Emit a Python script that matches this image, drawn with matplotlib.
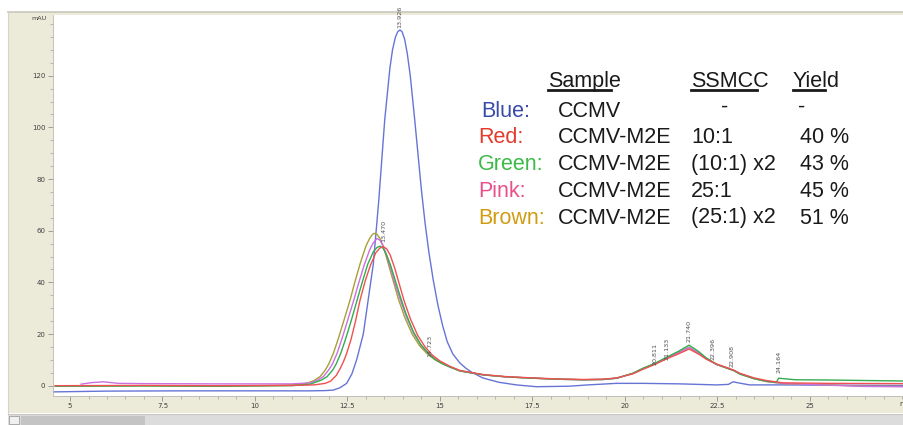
import matplotlib
matplotlib.use("Agg")
import matplotlib.pyplot as plt
from matplotlib.patches import Rectangle
from matplotlib.lines import Line2D
from matplotlib.ticker import MultipleLocator, FuncFormatter

# ---- chromatogram traces (time in min, absorbance in mAU) ----
blue_t = [4.55, 6.0, 8.0, 10.0, 11.5, 11.9, 12.12, 12.3, 12.48, 12.62, 12.75, 12.93,
          13.06, 13.2, 13.35, 13.51, 13.65, 13.72, 13.8, 13.86, 13.92, 13.98, 14.05,
          14.12, 14.2, 14.32, 14.42, 14.5, 14.6, 14.7, 14.82, 14.95, 15.08, 15.2,
          15.35, 15.54, 15.7, 15.85, 16.16, 16.6, 17.07, 17.61, 18.5, 19.0, 19.77,
          20.5, 21.5, 22.48, 22.8, 22.93, 23.1, 23.38, 24.27, 25.5, 27.6]
blue_y = [-2.4, -2.1, -2.0, -2.0, -2.0, -1.9, -1.7, -0.8, 0.9, 4.5, 10.0, 20.0,
          33.0, 47.0, 72.0, 103.0, 123.0, 130.0, 135.0, 137.0, 137.7, 137.0, 134.0,
          128.5, 120.0, 103.0, 88.0, 76.0, 63.0, 52.0, 41.0, 31.0, 23.0, 17.0,
          12.3, 8.8, 6.8, 5.3, 3.0, 1.3, 0.3, -0.4, -0.2, 0.3, 0.9,
          0.9, 0.7, 0.3, 0.5, 1.5, 1.0, 0.3, 0.3, 0.2, 0.1]

red_t = [4.6, 7.0, 9.0, 11.0, 11.6, 11.9, 12.05, 12.2, 12.3, 12.4, 12.48, 12.6,
         12.72, 12.84, 12.98, 13.12, 13.27, 13.38, 13.47, 13.56, 13.66, 13.78, 13.9,
         14.03, 14.2, 14.4, 14.6, 14.8, 15.0, 15.27, 15.54, 16.17, 16.8, 17.52,
         18.2, 18.87, 19.4, 19.78, 20.22, 20.5, 20.81, 21.13, 21.45, 21.74, 22.0,
         22.2, 22.48, 22.84, 22.95, 23.11, 23.5, 23.83, 24.28, 25.5, 27.6]
red_y = [0.0, 0.1, 0.0, 0.1, 0.3, 0.9, 1.8, 4.0, 6.5, 9.5, 12.5, 18.0,
         25.0, 33.0, 40.5, 46.5, 51.5, 53.3, 53.8, 53.0, 50.5, 45.5, 39.5,
         33.0, 26.0, 19.5, 15.0, 11.8, 9.6, 7.5, 5.9, 4.3, 3.5, 3.0,
         2.6, 2.4, 2.5, 3.0, 4.6, 6.4, 8.2, 10.4, 12.3, 14.2, 12.2,
         10.3, 8.4, 6.6, 6.0, 4.8, 3.0, 2.0, 1.1, 0.9, 0.8]

green_t = [4.6, 7.0, 9.0, 11.0, 11.5, 11.8, 11.95, 12.1, 12.2, 12.32, 12.45, 12.6,
           12.76, 12.9, 13.05, 13.2, 13.3, 13.38, 13.46, 13.55, 13.67, 13.8, 13.93,
           14.08, 14.28, 14.48, 14.7, 14.9, 15.1, 15.27, 15.54, 16.17, 16.8, 17.52,
           18.2, 18.87, 19.4, 19.78, 20.22, 20.5, 20.81, 21.13, 21.45, 21.74, 22.0,
           22.2, 22.48, 22.84, 22.95, 23.11, 23.5, 23.83, 24.1, 24.16, 24.6, 25.5,
           26.5, 27.6]
green_y = [-0.2, -0.1, -0.2, 0.0, 0.6, 2.2, 3.5, 6.0, 8.5, 12.5, 18.0, 25.0,
           33.0, 40.0, 47.0, 51.8, 53.5, 54.0, 53.3, 51.0, 46.5, 40.5, 34.5,
           28.0, 21.0, 16.0, 12.3, 9.9, 8.3, 7.2, 5.7, 4.2, 3.4, 2.9,
           2.5, 2.3, 2.4, 2.9, 4.8, 6.8, 8.6, 11.0, 13.3, 15.7, 13.2,
           10.8, 8.3, 6.4, 5.8, 4.5, 2.7, 1.7, 1.3, 2.9, 2.3, 2.2,
           2.0, 1.8]

pink_t = [5.3, 5.6, 5.9, 6.3, 7.0, 9.0, 11.0, 11.5, 11.7, 11.85, 12.0, 12.1,
          12.22, 12.35, 12.5, 12.67, 12.8, 12.95, 13.1, 13.2, 13.3, 13.38, 13.46,
          13.58, 13.7, 13.82, 13.95, 14.1, 14.3, 14.5, 14.7, 14.9, 15.1, 15.27,
          15.54, 16.17, 16.8, 17.52, 18.2, 18.87, 19.4, 19.78, 20.22, 20.5, 20.81,
          21.13, 21.45, 21.74, 22.0, 22.2, 22.48, 22.84, 22.95, 23.11, 23.5, 23.83,
          24.28, 25.5, 26.5, 27.6]
pink_y = [0.6, 1.2, 1.5, 0.9, 0.8, 0.7, 0.7, 1.1, 2.2, 3.5, 6.2, 8.5,
          12.5, 18.0, 25.0, 33.0, 39.5, 46.5, 52.5, 55.3, 57.0, 56.3, 54.5,
          49.5, 44.0, 38.0, 32.5, 26.5, 20.0, 15.5, 12.4, 10.0, 8.4, 7.3,
          5.7, 4.2, 3.4, 2.9, 2.5, 2.3, 2.4, 2.9, 4.7, 6.6, 8.4,
          10.6, 12.8, 14.8, 12.6, 10.5, 8.2, 6.4, 5.9, 4.6, 2.8, 1.7,
          0.9, 0.2, -0.3, -0.4]

brown_t = [4.6, 7.0, 9.0, 10.5, 11.0, 11.4, 11.6, 11.76, 11.9, 12.0, 12.12, 12.25,
           12.4, 12.57, 12.7, 12.85, 13.0, 13.1, 13.18, 13.24, 13.3, 13.38, 13.5,
           13.62, 13.75, 13.88, 14.05, 14.25, 14.45, 14.64, 14.85, 15.05, 15.27,
           15.54, 16.17, 16.8, 17.52, 18.2, 18.87, 19.4, 19.78, 20.22, 20.5, 20.81,
           21.13, 21.45, 21.74, 22.0, 22.2, 22.48, 22.84, 22.95, 23.11, 23.5, 23.83,
           24.28, 25.5, 26.5, 27.6]
brown_y = [-0.1, 0.0, -0.2, 0.1, 0.3, 0.9, 2.0, 3.5, 6.0, 8.5, 12.5, 18.0,
           25.0, 33.0, 40.0, 47.5, 54.0, 57.0, 58.6, 59.0, 58.6, 57.0, 52.5,
           46.5, 40.0, 33.5, 26.5, 20.0, 15.5, 12.6, 10.2, 8.6, 7.4,
           5.8, 4.2, 3.4, 2.9, 2.5, 2.3, 2.4, 2.9, 4.8, 6.7, 8.5,
           10.7, 12.9, 14.9, 12.6, 10.5, 8.2, 6.4, 5.9, 4.6, 2.7, 1.6,
           0.8, 0.3, -0.2, -0.3]

# peak retention times printed on the chart, with the height where each label starts
peak_times = [13.926, 13.470, 14.723, 20.811, 21.133, 21.740, 22.396, 22.908, 24.164]
peak_label_y = [138.5, 55.6, 11.2, 8.0, 9.9, 17.0, 9.9, 7.4, 4.8]

# legend table
row_names = ["Blue:", "Red:", "Green:", "Pink:", "Brown:"]
row_colors = ["#3a4aa8", "#e53a2c", "#3cba48", "#e8508a", "#d19c10"]
samples = ["CCMV", "CCMV-M2E", "CCMV-M2E", "CCMV-M2E", "CCMV-M2E"]
ssmcc = ["-", "10:1", "(10:1) x2", "25:1", "(25:1) x2"]
yields = ["-", "40 %", "43 %", "45 %", "51 %"]

W, H = 904, 425


def fx(px):
    return px / W


def fy(py):
    return 1 - py / H


fig = plt.figure(figsize=(W / 100, H / 100), dpi=100, facecolor="white")

# window chrome: beige frame, top band, scrollbar
fig.add_artist(Rectangle((fx(8), fy(413)), fx(896), fy(12) - fy(413),
                         transform=fig.transFigure, facecolor="#ecead9",
                         edgecolor="none", zorder=-2))
fig.add_artist(Line2D([fx(8), fx(904)], [fy(12), fy(12)], transform=fig.transFigure,
                      color="#c8c8bc", lw=1.2, zorder=-1))
fig.add_artist(Line2D([fx(8), fx(8)], [fy(12), fy(413)], transform=fig.transFigure,
                      color="#d4d4c8", lw=0.8, zorder=-1))
fig.add_artist(Line2D([fx(8), fx(904)], [fy(413.5), fy(413.5)], transform=fig.transFigure,
                      color="#c8c8c0", lw=0.8, zorder=-1))
fig.add_artist(Rectangle((fx(8), 0), fx(896), fy(415), transform=fig.transFigure,
                         facecolor="#dcdcdc", edgecolor="none", zorder=-2))
fig.add_artist(Rectangle((fx(21), 0), fx(124), fy(416), transform=fig.transFigure,
                         facecolor="#c4c4c4", edgecolor="none", zorder=-1))
fig.add_artist(Rectangle((fx(9), fy(424)), fx(10), fy(416) - fy(424),
                         transform=fig.transFigure, facecolor="#f0f0f0",
                         edgecolor="#a0a0a0", lw=0.6, zorder=-1))

ax = fig.add_axes([fx(53), fy(395.5), fx(851), fy(15) - fy(395.5)])
ax.set_facecolor("white")

ax.plot(blue_t, blue_y, color="#6674d6", lw=1.0)
ax.plot(brown_t, brown_y, color="#a8a034", lw=1.0)
ax.plot(pink_t, pink_y, color="#cc70e0", lw=1.0)
ax.plot(green_t, green_y, color="#34ac50", lw=1.0)
ax.plot(red_t, red_y, color="#f05050", lw=1.0)

for t, yl in zip(peak_times, peak_label_y):
    ax.text(t, yl, f"{t:.3f}", rotation=90, ha="center", va="bottom",
            fontsize=4.6, color="#505050", clip_on=False)

ax.set_xlim(4.54, 27.55)
ax.set_ylim(-3.8, 143.5)
ax.xaxis.set_minor_locator(MultipleLocator(0.5))
ax.yaxis.set_minor_locator(MultipleLocator(5))
ax.set_xticks([5, 7.5, 10, 12.5, 15, 17.5, 20, 22.5, 25])
ax.set_yticks([0, 20, 40, 60, 80, 100, 120])
ax.xaxis.set_major_formatter(FuncFormatter(lambda v, p: f"{v:g}"))
ax.tick_params(axis="both", which="major", labelsize=5, labelcolor="#404040",
               color="#909090", length=3.5, width=0.6, pad=2)
ax.tick_params(axis="both", which="minor", color="#a0a0a0", length=2, width=0.5)
for s in ["top", "right"]:
    ax.spines[s].set_visible(False)
for s in ["left", "bottom"]:
    ax.spines[s].set_color("#b8b8b0")
    ax.spines[s].set_linewidth(0.6)

fig.text(fx(46), fy(18), "mAU", fontsize=4.6, color="#404040", ha="right", va="center")
fig.text(fx(899), fy(404), "min", fontsize=5, color="#404040", ha="left", va="center")

# legend table written into the plot
font = "Liberation Sans"
fs = 15.5
head_base = 87
fig.text(fx(548), fy(head_base), "Sample", fontsize=fs, family=font, color="#1a1a1a")
fig.text(fx(691), fy(head_base), "SSMCC", fontsize=fs, family=font, color="#1a1a1a")
fig.text(fx(793), fy(head_base), "Yield", fontsize=fs, family=font, color="#1a1a1a")
for x0, x1 in [(548, 611), (691, 757), (793, 825)]:
    fig.add_artist(Line2D([fx(x0), fx(x1)], [fy(89.5), fy(89.5)],
                          transform=fig.transFigure, color="#1a1a1a", lw=2.0))

for i in range(len(row_names)):
    base = 116.7 + i * 26.7
    name_x = 481.5 if i == 0 else 478
    fig.text(fx(name_x), fy(base), row_names[i], fontsize=fs, family=font,
             color=row_colors[i])
    fig.text(fx(558), fy(base), samples[i], fontsize=fs, family=font, color="#1a1a1a")
    if ssmcc[i] == "-":
        fig.text(fx(725), fy(base - 4), "-", fontsize=fs, family=font,
                 color="#1a1a1a", ha="center")
        fig.text(fx(802), fy(base - 4), "-", fontsize=fs, family=font,
                 color="#1a1a1a", ha="center")
    else:
        fig.text(fx(691), fy(base), ssmcc[i], fontsize=fs, family=font, color="#1a1a1a")
        fig.text(fx(800), fy(base), yields[i], fontsize=fs, family=font, color="#1a1a1a")

fig.savefig("out.png", dpi=100)
